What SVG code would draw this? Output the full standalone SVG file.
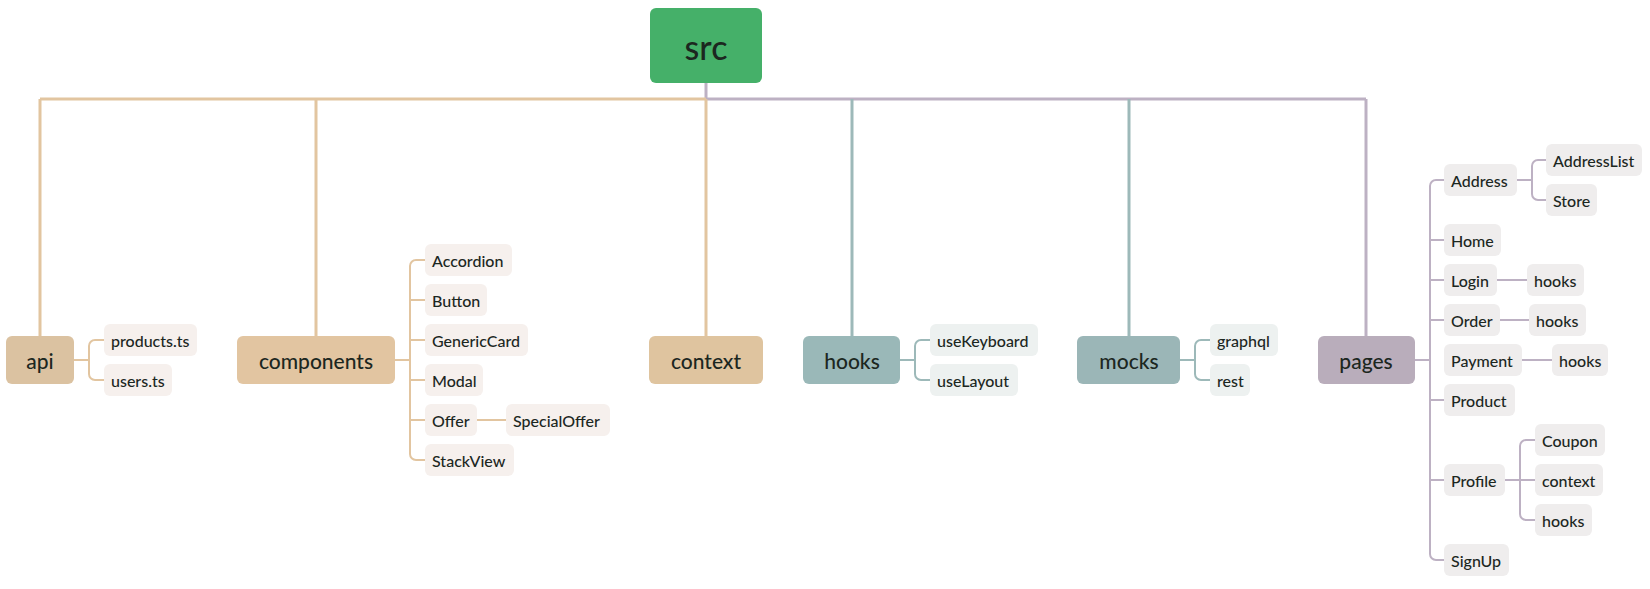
<svg xmlns="http://www.w3.org/2000/svg" width="1650" height="589" viewBox="0 0 1650 589">
<style>
.t{font-family:Lato,"Open Sans","Liberation Sans",sans-serif;fill:#1c271f}
.main{font-size:21px;font-weight:500;text-anchor:middle;dominant-baseline:central}
.leaf{font-size:16px;font-weight:500;dominant-baseline:central}
.c{fill:none;stroke-linejoin:round;stroke-linecap:butt}
.tan{stroke:#e2c5a0}
.teal{stroke:#9db9b9}
.lav{stroke:#bdb1c3}
.w3{stroke-width:3}
.w2{stroke-width:2}
.lt{fill:#f6f0ed}
.lg{fill:#edf1f0}
.ll{fill:#efeded}
</style>
<rect width="1650" height="589" fill="#ffffff"/>
<g id="connectors">
<path class="c lav w3" d="M706 83 V99 H1366"/>
<path class="c tan w3" d="M706 99 H40"/>
<path class="c tan w3" d="M40 99 V336 M316 99 V336 M706 99 V336"/>
<path class="c teal w3" d="M852 99 V336 M1129 99 V336"/>
<path class="c lav w3" d="M1366 99 V336"/>
<path class="c tan w2" d="M74 360 H89 M104 340 H95 A6 6 0 0 0 89 346 V374 A6 6 0 0 0 95 380 H104"/>
<path class="c tan w2" d="M395 360 H410 M425 260 H416 A6 6 0 0 0 410 266 V454 A6 6 0 0 0 416 460 H425 M410 300 H425 M410 340 H425 M410 380 H425 M410 420 H425 M477 420 H506"/>
<path class="c teal w2" d="M900 360 H915 M930 340 H921 A6 6 0 0 0 915 346 V374 A6 6 0 0 0 921 380 H930"/>
<path class="c teal w2" d="M1180 360 H1195 M1210 340 H1201 A6 6 0 0 0 1195 346 V374 A6 6 0 0 0 1201 380 H1210"/>
<path class="c lav w2" d="M1415 360 H1430 M1444 180 H1436 A6 6 0 0 0 1430 186 V554 A6 6 0 0 0 1436 560 H1444 M1430 240 H1444 M1430 280 H1444 M1430 320 H1444 M1430 400 H1444 M1430 480 H1444"/>
<path class="c lav w2" d="M1517 180 H1532 M1546 160 H1538 A6 6 0 0 0 1532 166 V194 A6 6 0 0 0 1538 200 H1546"/>
<path class="c lav w2" d="M1497 280 H1527 M1500 320 H1529 M1522 360 H1552"/>
<path class="c lav w2" d="M1505 480 H1535 M1535 440 H1526 A6 6 0 0 0 1520 446 V514 A6 6 0 0 0 1526 520 H1535"/>
</g>
<g id="src"><rect x="650" y="8" width="112" height="75" rx="6" fill="#45b069"/><text class="t" x="706" y="46" font-size="34" font-weight="500" text-anchor="middle" dominant-baseline="central">src</text></g>
<g id="api"><rect x="6" y="336" width="68" height="48" rx="6" fill="#dbc2a1"/><text class="t main" x="40" y="360">api</text></g>
<g id="components"><rect x="237" y="336" width="158" height="48" rx="6" fill="#e2c5a1"/><text class="t main" x="316" y="360">components</text></g>
<g id="context"><rect x="649" y="336" width="114" height="48" rx="6" fill="#dfc49f"/><text class="t main" x="706" y="360">context</text></g>
<g id="hooks"><rect x="803" y="336" width="97" height="48" rx="6" fill="#9ab8b8"/><text class="t main" x="852" y="360">hooks</text></g>
<g id="mocks"><rect x="1077" y="336" width="103" height="48" rx="6" fill="#9bb6b7"/><text class="t main" x="1129" y="360">mocks</text></g>
<g id="pages"><rect x="1318" y="336" width="97" height="48" rx="6" fill="#b9adbb"/><text class="t main" x="1366" y="360">pages</text></g>
<g id="products-ts"><rect class="lt" x="104" y="324" width="93" height="32" rx="6"/><text class="t leaf" x="111" y="340">products.ts</text></g>
<g id="users-ts"><rect class="lt" x="104" y="364" width="68" height="32" rx="6"/><text class="t leaf" x="111" y="380">users.ts</text></g>
<g id="Accordion"><rect class="lt" x="425" y="244" width="87" height="32" rx="6"/><text class="t leaf" x="432" y="260">Accordion</text></g>
<g id="Button"><rect class="lt" x="425" y="284" width="62" height="32" rx="6"/><text class="t leaf" x="432" y="300">Button</text></g>
<g id="GenericCard"><rect class="lt" x="425" y="324" width="103" height="32" rx="6"/><text class="t leaf" x="432" y="340">GenericCard</text></g>
<g id="Modal"><rect class="lt" x="425" y="364" width="58" height="32" rx="6"/><text class="t leaf" x="432" y="380">Modal</text></g>
<g id="Offer"><rect class="lt" x="425" y="404" width="52" height="32" rx="6"/><text class="t leaf" x="432" y="420">Offer</text></g>
<g id="SpecialOffer"><rect class="lt" x="506" y="404" width="104" height="32" rx="6"/><text class="t leaf" x="513" y="420">SpecialOffer</text></g>
<g id="StackView"><rect class="lt" x="425" y="444" width="89" height="32" rx="6"/><text class="t leaf" x="432" y="460">StackView</text></g>
<g id="useKeyboard"><rect class="lg" x="930" y="324" width="108" height="32" rx="6"/><text class="t leaf" x="937" y="340">useKeyboard</text></g>
<g id="useLayout"><rect class="lg" x="930" y="364" width="88" height="32" rx="6"/><text class="t leaf" x="937" y="380">useLayout</text></g>
<g id="graphql"><rect class="lg" x="1210" y="324" width="68" height="32" rx="6"/><text class="t leaf" x="1217" y="340">graphql</text></g>
<g id="rest"><rect class="lg" x="1210" y="364" width="40" height="32" rx="6"/><text class="t leaf" x="1217" y="380">rest</text></g>
<g id="Address"><rect class="ll" x="1444" y="164" width="73" height="32" rx="6"/><text class="t leaf" x="1451" y="180">Address</text></g>
<g id="AddressList"><rect class="ll" x="1546" y="144" width="96" height="32" rx="6"/><text class="t leaf" x="1553" y="160">AddressList</text></g>
<g id="Store"><rect class="ll" x="1546" y="184" width="51" height="32" rx="6"/><text class="t leaf" x="1553" y="200">Store</text></g>
<g id="Home"><rect class="ll" x="1444" y="224" width="57" height="32" rx="6"/><text class="t leaf" x="1451" y="240">Home</text></g>
<g id="Login"><rect class="ll" x="1444" y="264" width="53" height="32" rx="6"/><text class="t leaf" x="1451" y="280">Login</text></g>
<g id="Login-hooks"><rect class="ll" x="1527" y="264" width="57" height="32" rx="6"/><text class="t leaf" x="1534" y="280">hooks</text></g>
<g id="Order"><rect class="ll" x="1444" y="304" width="56" height="32" rx="6"/><text class="t leaf" x="1451" y="320">Order</text></g>
<g id="Order-hooks"><rect class="ll" x="1529" y="304" width="57" height="32" rx="6"/><text class="t leaf" x="1536" y="320">hooks</text></g>
<g id="Payment"><rect class="ll" x="1444" y="344" width="78" height="32" rx="6"/><text class="t leaf" x="1451" y="360">Payment</text></g>
<g id="Payment-hooks"><rect class="ll" x="1552" y="344" width="56" height="32" rx="6"/><text class="t leaf" x="1559" y="360">hooks</text></g>
<g id="Product"><rect class="ll" x="1444" y="384" width="71" height="32" rx="6"/><text class="t leaf" x="1451" y="400">Product</text></g>
<g id="Coupon"><rect class="ll" x="1535" y="424" width="70" height="32" rx="6"/><text class="t leaf" x="1542" y="440">Coupon</text></g>
<g id="Profile"><rect class="ll" x="1444" y="464" width="61" height="32" rx="6"/><text class="t leaf" x="1451" y="480">Profile</text></g>
<g id="Profile-context"><rect class="ll" x="1535" y="464" width="68" height="32" rx="6"/><text class="t leaf" x="1542" y="480">context</text></g>
<g id="Profile-hooks"><rect class="ll" x="1535" y="504" width="57" height="32" rx="6"/><text class="t leaf" x="1542" y="520">hooks</text></g>
<g id="SignUp"><rect class="ll" x="1444" y="544" width="65" height="32" rx="6"/><text class="t leaf" x="1451" y="560">SignUp</text></g>
</svg>
